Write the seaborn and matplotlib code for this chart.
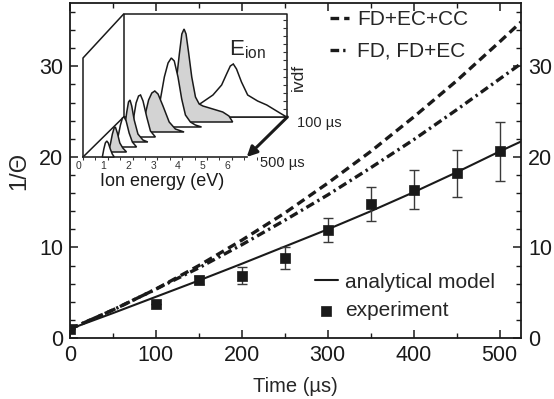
import numpy as np
import pandas as pd
import matplotlib.pyplot as plt
import seaborn as sns
from matplotlib.ticker import MultipleLocator
from matplotlib.transforms import ScaledTranslation

# main panel: 1/Theta vs time
t_model = [0, 50, 100, 150, 200, 250, 300, 350, 400, 450, 500, 525]
fd_ec_cc = [1.0, 3.1, 5.4, 8.0, 10.8, 13.8, 17.1, 20.6, 24.4, 28.4, 32.7, 34.9]
fd_ec = [1.0, 3.1, 5.4, 7.75, 10.3, 13.0, 15.8, 18.8, 21.9, 25.2, 28.6, 30.3]
analytical = [1.0, 2.75, 4.55, 6.35, 8.2, 10.1, 12.0, 14.0, 16.1, 18.3, 20.6, 21.7]

t_exp = [0, 100, 150, 200, 250, 300, 350, 400, 450, 500]
exp_val = [1.0, 3.8, 6.4, 6.9, 8.8, 11.9, 14.8, 16.4, 18.2, 20.6]
exp_err = [0.0, 0.0, 0.4, 0.9, 1.2, 1.3, 1.9, 2.2, 2.6, 3.3]

# inset: ion velocity distribution functions, back (100 us) to front (500 us)
ivdf_times = [100, 150, 200, 250, 300, 350, 400, 450, 500]
ivdf_energy = [
    [2.7, 3.07, 3.6, 3.95, 4.15, 4.3, 4.42, 4.55, 4.75, 5.0, 5.4, 5.77, 6.3, 6.57],
    [2.1, 2.3, 2.45, 2.55, 2.64, 2.72, 2.82, 2.95, 3.1, 3.25, 3.4, 3.8, 4.2, 4.45, 4.6],
    [1.6, 1.85, 2.05, 2.2, 2.33, 2.45, 2.6, 2.75, 2.9, 3.1, 3.3, 3.55],
    [1.25, 1.45, 1.62, 1.75, 1.87, 2.0, 2.2, 2.45, 2.7, 3.05],
    [1.05, 1.2, 1.32, 1.42, 1.5, 1.6, 1.75, 1.9, 2.1],
    [0.95, 1.05, 1.15, 1.22, 1.28, 1.35, 1.45, 1.6, 1.8, 2.0],
    [0.9, 1.0, 1.1, 1.18, 1.25, 1.33, 1.45, 1.58, 1.75],
    [0.82, 0.9, 0.98, 1.05, 1.1, 1.18, 1.28, 1.4, 1.55],
    [0.78, 0.84, 0.9, 0.96, 1.02, 1.1, 1.18, 1.26],
]
ivdf_height = [
    [0, 13, 22, 32, 43, 51, 53, 48, 35, 22, 16, 12, 4, 0],
    [0, 35, 68, 88, 93, 88, 70, 45, 25, 18, 16, 13, 10, 6, 0],
    [0, 22, 50, 64, 69, 66, 50, 28, 12, 5, 2, 0],
    [0, 14, 32, 39, 41, 38, 26, 10, 3, 0],
    [0, 16, 34, 41, 42, 36, 20, 6, 0],
    [0, 12, 30, 40, 42, 36, 22, 8, 2, 0],
    [0, 10, 22, 29, 30, 26, 14, 5, 0],
    [0, 8, 18, 24, 25, 19, 9, 4, 0],
    [0, 8, 14, 16, 14, 8, 3, 0],
]
ivdf_fill = ['white', '#d3d3d3'] * 4 + ['white']

sns.set_style('ticks')
plt.rcParams['font.family'] = ['Liberation Sans', 'DejaVu Sans']
plt.rcParams['mathtext.fontset'] = 'custom'
plt.rcParams['mathtext.rm'] = 'Liberation Sans'

fig = plt.figure(figsize=(5.54, 3.99), dpi=100)
ax = fig.add_axes([70/554, 1-338/399, 451/554, 335/399])

models = pd.DataFrame({'t': t_model, 'cc': fd_ec_cc, 'ec': fd_ec, 'an': analytical})
sns.lineplot(data=models, x='t', y='cc', ax=ax, color='#1a1a1a', lw=2.4,
             label='FD+EC+CC')
sns.lineplot(data=models, x='t', y='ec', ax=ax, color='#1a1a1a', lw=2.4,
             label='FD, FD+EC')
sns.lineplot(data=models, x='t', y='an', ax=ax, color='#1a1a1a', lw=1.5,
             label='analytical model')
ax.lines[0].set_dashes([2.6, 1.5])
ax.lines[1].set_dashes([2.6, 1.2, 0.7, 1.2])

ax.errorbar(t_exp, exp_val, yerr=exp_err, fmt='none', ecolor='#3a3a3a',
            elinewidth=1.0, capsize=3.5, capthick=1.0, zorder=3)
sns.scatterplot(x=t_exp, y=exp_val, ax=ax, marker='s', s=62, color='#1a1a1a',
                edgecolor='#1a1a1a', linewidth=0.5, label='experiment', zorder=4)

ax.set_xlim(0, 525)
ax.set_ylim(0, 37)
ax.xaxis.set_major_locator(MultipleLocator(100))
ax.xaxis.set_minor_locator(MultipleLocator(50))
ax.yaxis.set_major_locator(MultipleLocator(10))
ax.yaxis.set_minor_locator(MultipleLocator(2))
ax.tick_params(which='both', direction='in', top=True, right=True,
               labelright=True, labelsize=15.5, colors='#1a1a1a', pad=5)
ax.tick_params(which='major', length=6, width=1.1)
ax.tick_params(which='minor', length=3.5, width=1.0)
for s in ax.spines.values():
    s.set_linewidth(1.3)
    s.set_color('#1a1a1a')

ax.set_xlabel('Time (µs)', fontsize=14.5)
ax.xaxis.set_label_coords(0.5, -0.115)
ax.set_ylabel('1/Θ', fontsize=17)
ax.yaxis.set_label_coords(-0.088, 0.5)

h, l = ax.get_legend_handles_labels()
leg1 = ax.legend(h[:2], l[:2], loc='upper left', bbox_to_anchor=(0.576, 0.978),
                 frameon=False, fontsize=15, handlelength=0.9,
                 handletextpad=0.4, labelspacing=0.6, borderpad=0, borderaxespad=0)
ax.add_artist(leg1)
ax.legend(h[2:], l[2:], loc='upper left', bbox_to_anchor=(0.543, 0.195),
          frameon=False, fontsize=15, handlelength=1.1,
          handletextpad=0.35, labelspacing=0.45, borderpad=0, borderaxespad=0)

# inset waterfall
e_max = 6.6        # energy axis length (eV)
box_h = 101        # ivdf box height
n_back = len(ivdf_times) - 1
dx, dy = 0.205, 5.0   # shift per 50 us step

ax_in = fig.add_axes([83/554, 1-157/399, 207/554, 147/399])
ax_in.patch.set_visible(False)
ax_in.set_xlim(0, 207/24.8)
ax_in.set_ylim(0, 147)
for side in ['left', 'right', 'top']:
    ax_in.spines[side].set_visible(False)
ax_in.spines['bottom'].set_bounds(0, e_max)
ax_in.spines['bottom'].set_linewidth(1.2)
ax_in.set_xticks(range(7))
ax_in.xaxis.set_minor_locator(MultipleLocator(0.5))
ax_in.set_yticks([])
ax_in.tick_params(axis='x', which='both', direction='out', labelsize=7.5,
                  colors='#333333', pad=0.5)
ax_in.tick_params(axis='x', which='major', length=2.5, width=0.8)
ax_in.tick_params(axis='x', which='minor', length=1.8, width=0.7)
for lab in ax_in.get_xticklabels():
    lab.set_transform(lab.get_transform() + ScaledTranslation(-3/72, 0, fig.dpi_scale_trans))
ax_in.set_xlabel('Ion energy (eV)', fontsize=13, color='#1a1a1a')
ax_in.xaxis.set_label_coords(0.38, -0.11)

bx, by = n_back*dx, n_back*dy
kw = dict(color='#1a1a1a', lw=1.1, zorder=1, clip_on=False)
ax_in.plot([0, 0, bx], [0, box_h - 2, by + box_h + 2], **kw)
ax_in.plot([0, bx], [0, by], **kw)
ax_in.plot([bx, bx, bx + e_max, bx + e_max, bx], [by, by + box_h + 2, by + box_h + 2, by, by], **kw)
ax_in.plot([bx + e_max]*12, np.linspace(by + 8, by + box_h - 4, 12), ls='none',
           marker=0, ms=3, mew=0.8, color='#333333', clip_on=False)

for i, (en, hh) in enumerate(zip(ivdf_energy, ivdf_height)):
    depth = n_back - i
    ax_in.fill(np.array(en) + depth*dx, np.array(hh) + depth*dy,
               facecolor=ivdf_fill[i], edgecolor='#1a1a1a', lw=1.1,
               zorder=2 + i, clip_on=False)

ax_in.annotate('', xy=(e_max, 0), xytext=(bx + e_max, by),
               arrowprops=dict(arrowstyle='-|>,head_length=0.6,head_width=0.3',
                               color='#1a1a1a', lw=2.2, shrinkA=0, shrinkB=0),
               annotation_clip=False)
ax_in.text(bx + e_max + 0.4, by - 6, '100 µs', fontsize=10.5, va='center', ha='left')
ax_in.text(e_max + 0.55, -6, '500 µs', fontsize=10.5, va='center', ha='left')
ax_in.text(bx + e_max + 0.45, 80, 'ivdf', fontsize=12.5, rotation=90, va='center', ha='center')
ax_in.text(5.9, 102, r'$\mathregular{E_{ion}}$', fontsize=16, ha='left', va='baseline')

plt.savefig('out.png', dpi=100)
